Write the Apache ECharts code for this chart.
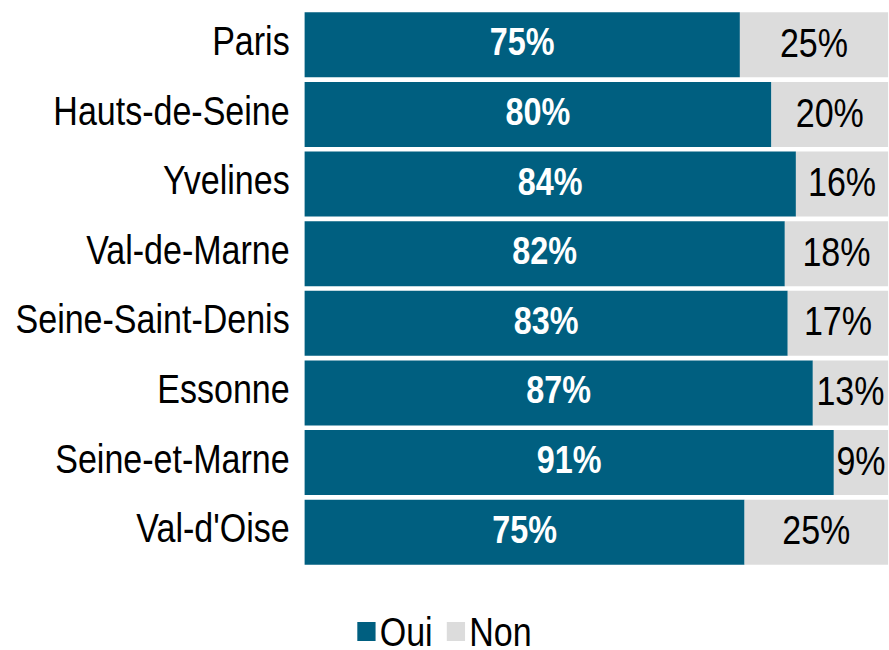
<!DOCTYPE html>
<html>
<head>
<meta charset="utf-8">
<script src="https://cdn.jsdelivr.net/npm/echarts@6/dist/echarts.min.js"></script>
<style>
    html, body { margin: 0; padding: 0; background: #fff; overflow: hidden; }
    /* the original chart is horizontally condensed: draw wider, then squeeze */
    #chart { width: 1071px; height: 650px; transform: scaleX(0.83); transform-origin: 0 0; }
</style>
</head>
<body>
<div id="chart"></div>
<script>
// départements, du haut vers le bas
const categories = ["Paris", "Hauts-de-Seine", "Yvelines", "Val-de-Marne", "Seine-Saint-Denis", "Essonne", "Seine-et-Marne", "Val-d'Oise"];
const ouiValues = [74.6, 80.0, 84.2, 82.3, 82.8, 87.1, 90.7, 75.4];
const nonValues = [25.4, 20.0, 15.8, 17.7, 17.2, 12.9, 9.3, 24.6];

const FONT = "'Liberation Sans', Arial, sans-serif";

const chart = echarts.init(document.getElementById("chart"), null, { renderer: "svg" });

// text sits a little above the bar middle in the original
const pct = (p) => "{t|" + Math.round(p.value) + "%}";

chart.setOption({
    animation: false,
    grid: { left: 367, right: 1, top: 10, bottom: 83, outerBoundsMode: "none", containLabel: false },
    legend: {
        data: ["Oui", "Non"],
        top: 611,
        left: "center",
        padding: 0,
        icon: "rect",
        itemWidth: 22,
        itemHeight: 19,
        itemGap: 17,
        textStyle: { color: "#000", fontSize: 41, fontFamily: FONT, padding: [0, 0, 10, 0] },
    },
    xAxis: {
        type: "value",
        min: 0,
        max: 100,
        show: false,
    },
    yAxis: {
        type: "category",
        data: categories,
        inverse: true,
        axisLine: { show: false },
        axisTick: { show: false },
        axisLabel: {
            margin: 18,
            formatter: (v) => "{t|" + v + "}",
            rich: { t: { color: "#000", fontSize: 41, fontFamily: FONT, padding: [0, 0, 8, 0] } },
        },
    },
    series: [
        {
            name: "Oui",
            type: "bar",
            stack: "total",
            barCategoryGap: "6.6%",
            data: ouiValues,
            itemStyle: { color: "#005F80" },
            label: {
                show: true,
                position: "inside",
                formatter: pct,
                rich: { t: { color: "#fff", fontWeight: "bold", fontSize: 39, fontFamily: FONT, padding: [0, 0, 5, 0] } },
            },
        },
        {
            name: "Non",
            type: "bar",
            stack: "total",
            data: nonValues,
            itemStyle: { color: "#DCDCDC" },
            label: {
                show: true,
                position: "inside",
                formatter: pct,
                rich: { t: { color: "#000", fontSize: 41, fontFamily: FONT, padding: [0, 0, 4, 0] } },
            },
        },
    ],
});
</script>
</body>
</html>
